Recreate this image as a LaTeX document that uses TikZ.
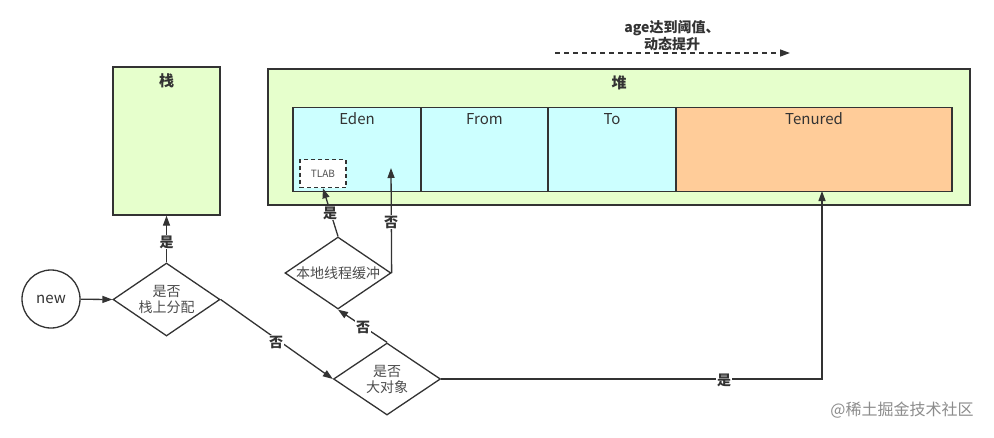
\documentclass[tikz,border=0pt]{standalone}
\usepackage{fontspec}
\setmainfont{Noto Sans CJK SC}
\usetikzlibrary{arrows.meta,shapes.geometric}
\definecolor{lc}{HTML}{333333}
\definecolor{tc}{HTML}{4D4D4D}
\definecolor{greenfill}{HTML}{E6FFCC}
\definecolor{cyanfill}{HTML}{CCFFFF}
\definecolor{orangefill}{HTML}{FFCC99}
\tikzset{
  x=1pt, y=-1pt,
  box/.style={draw=lc, line width=1.3pt, rectangle, inner sep=0pt},
  dia/.style={draw=lc, line width=1.3pt, diamond, aspect=1.47, inner sep=0pt, fill=white,
    text=tc, font=\fontsize{14}{16}\selectfont, align=center},
  conn/.style={draw=lc, line width=1.3pt, -{Triangle[length=10pt,width=7pt]}},
  elab/.style={fill=white, inner sep=1pt, text=lc, font=\fontsize{14}{16}\selectfont\bfseries},
  title/.style={text=lc, font=\fontsize{15}{17}\selectfont\bfseries},
  part/.style={text=lc, font=\fontsize{15}{17}\selectfont},
}
\begin{document}
\begin{tikzpicture}
\useasboundingbox (0,0) rectangle (994,437);
\fill[white] (0,0) rectangle (994,437);

% stack
\node[box, fill=greenfill, minimum width=107pt, minimum height=148pt] (stack) at (166.5,141) {};
\node[title] (stacklab) at (166.5,81) {栈};

% heap
\node[box, fill=greenfill, minimum width=702pt, minimum height=136pt] (heap) at (619,137) {};
\node[title] (heaplab) at (619,83) {堆};
\node[box, fill=cyanfill, minimum width=128pt, minimum height=84pt] (eden) at (357,149.5) {};
\node[box, fill=cyanfill, minimum width=127pt, minimum height=84pt] (from) at (484.5,149.5) {};
\node[box, fill=cyanfill, minimum width=128pt, minimum height=84pt] (to) at (612,149.5) {};
\node[box, fill=orangefill, minimum width=276pt, minimum height=84pt] (tenured) at (814,149.5) {};
\node[part] (edenlab) at (357,119) {Eden};
\node[part] (fromlab) at (484.5,119) {From};
\node[part] (tolab) at (612,119) {To};
\node[part] (tenlab) at (814,119) {Tenured};
\node[box, fill=white, dashed, dash pattern=on 4pt off 3pt, line width=1.5pt,
  minimum width=46pt, minimum height=28pt, text=tc, font=\fontsize{10}{12}\selectfont] (tlab) at (323,173.5) {TLAB};

% promotion arrow
\coordinate (pa) at (555,53);
\coordinate (pb) at (790,53);
\draw[conn, dashed, dash pattern=on 5pt off 4pt] (pa) -- (pb);
\node[elab, fill=none, align=center, font=\fontsize{14}{17}\selectfont\bfseries] (agelab) at (672,36) {age达到阈值、\\动态提升};

% flow nodes
\node[draw=lc, line width=1.3pt, circle, minimum size=58pt, inner sep=0pt, text=lc,
  font=\fontsize{15}{17}\selectfont] (new) at (51,299) {new};
\node[dia, minimum width=107pt, minimum height=73pt] (d1) at (166.5,299.5) {是否\\栈上分配};
\node[dia, minimum width=106pt, minimum height=72pt] (d2) at (338,273) {本地线程缓冲};
\node[dia, minimum width=107pt, minimum height=72pt] (d3) at (387,379) {是否\\大对象};

\coordinate (edenin) at (391,168);
\coordinate (tenin) at (822,191);

% connectors
\draw[conn] (new) -- (d1.west);
\draw[conn] (d1.north) -- (stack.south);
\node[elab] (l1) at (166.5,242) {是};
\draw[conn] (d1.east) -- (d3.west);
\node[elab] (l2) at (276,342) {否};
\draw[conn] (d3.north) -- (d2.south);
\node[elab] (l3) at (363,327) {否};
\draw[conn] (d2.north) -- (tlab.south);
\node[elab] (l4) at (330,213) {是};
\draw[conn] (d2.east) -- (edenin);
\node[elab] (l5) at (391,222) {否};
\draw[conn] (d3.east) -| (tenin);
\node[elab] (l6) at (724,380) {是};

% watermark
\node[text=black!45, font=\fontsize{16}{18}\selectfont] (wm) at (902,410) {@稀土掘金技术社区};
\end{tikzpicture}
\end{document}
